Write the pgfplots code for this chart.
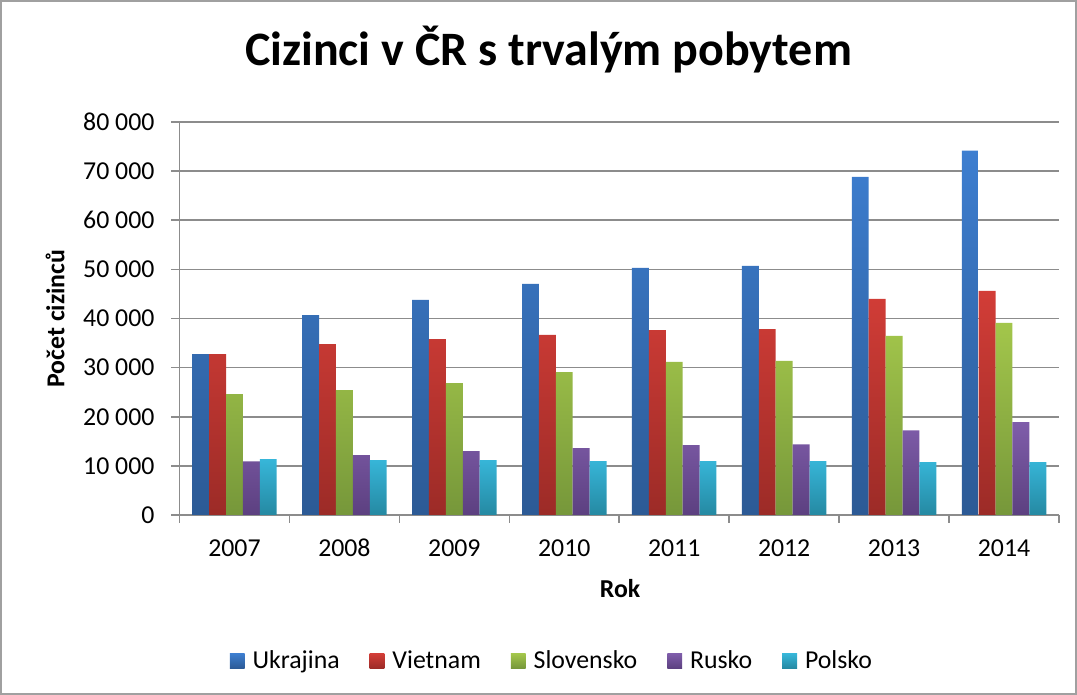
\documentclass[border=0pt]{standalone}
\usepackage{fontspec}
\setmainfont{Carlito}
\usepackage{pgfplots}
\pgfplotsset{compat=1.18}

\definecolor{ukrT}{HTML}{3D7ED0}
\definecolor{ukrB}{HTML}{2C5A95}
\definecolor{vieT}{HTML}{D23D37}
\definecolor{vieB}{HTML}{9C2B27}
\definecolor{sloT}{HTML}{A3C64B}
\definecolor{sloB}{HTML}{76973A}
\definecolor{rusT}{HTML}{7F5DAA}
\definecolor{rusB}{HTML}{5C4080}
\definecolor{polT}{HTML}{37B6D9}
\definecolor{polB}{HTML}{2589A2}
\definecolor{axgray}{HTML}{8C8C8C}
\definecolor{bordergray}{HTML}{A0A0A0}

\begin{document}
\begin{tikzpicture}
\begin{axis}[
  scale only axis,
  width=439.75pt, height=196.5pt,
  xmin=-0.5, xmax=7.5,
  ymin=0, ymax=80000,
  ybar=0pt, bar width=8.45pt,
  axis lines=left,
  axis line style={-, draw=axgray, line width=0.8pt},
  tick style={draw=axgray, line width=0.8pt},
  tick align=outside,
  major tick length=4pt,
  xtick={-0.5,0.5,...,7.5},
  xticklabels={},
  extra x ticks={0,1,2,3,4,5,6,7},
  extra x tick labels={2007,2008,2009,2010,2011,2012,2013,2014},
  extra x tick style={major tick length=0pt,
    xticklabel style={anchor=base, yshift=-21pt}},
  ytick={0,10000,...,80000},
  scaled y ticks=false,
  yticklabel style={/pgf/number format/.cd, 1000 sep={\ }, assume math mode=true,
    /tikz/.cd, xshift=-5pt},
  ymajorgrids,
  grid style={draw=axgray, line width=0.8pt},
  ticklabel style={font=\fontsize{12.9}{15}\selectfont},
  title={Cizinci v ČR s trvalým pobytem},
  title style={at={(rel axis cs:0.4196,1.1145)}, anchor=base,
    font=\bfseries\fontsize{24}{28}\selectfont},
  xlabel={Rok},
  xlabel style={at={(rel axis cs:0.501,-0.2112)}, anchor=base,
    font=\bfseries\fontsize{12.9}{15}\selectfont},
  ylabel={Počet cizinců},
  ylabel style={at={(rel axis cs:-0.1415,0.5)}, anchor=center,
    font=\bfseries\fontsize{12.9}{15}\selectfont},
  legend style={at={(rel axis cs:0.4245,-0.3715)}, anchor=center,
    draw=none, fill=none, legend columns=5,
    font=\fontsize{12.9}{15}\selectfont,
    /tikz/every even column/.append style={column sep=13pt}},
  legend image code/.code={%
    \path[#1, draw=none] (0pt,-3.7pt) rectangle (7.4pt,3.7pt);
    \path (0pt,0pt) -- (9.4pt,0pt);},
]
\addplot[draw=none, top color=ukrT, bottom color=ukrB] coordinates
  {(0,32770) (1,40700) (2,43800) (3,47050) (4,50300) (5,50700) (6,68850) (7,74150)};
\addplot[draw=none, top color=vieT, bottom color=vieB] coordinates
  {(0,32770) (1,34800) (2,35800) (3,36650) (4,37650) (5,37850) (6,44000) (7,45600)};
\addplot[draw=none, top color=sloT, bottom color=sloB] coordinates
  {(0,24600) (1,25400) (2,26850) (3,29100) (4,31150) (5,31350) (6,36450) (7,39100)};
\addplot[draw=none, top color=rusT, bottom color=rusB] coordinates
  {(0,10900) (1,12200) (2,13000) (3,13600) (4,14200) (5,14400) (6,17250) (7,18900)};
\addplot[draw=none, top color=polT, bottom color=polB] coordinates
  {(0,11350) (1,11150) (2,11150) (3,10950) (4,10950) (5,10950) (6,10750) (7,10750)};
\legend{Ukrajina, Vietnam, Slovensko, Rusko, Polsko}
\end{axis}
\draw[bordergray, line width=0.8pt] (-89.35pt,-89.6pt) rectangle (448.35pt,257.1pt);
\end{tikzpicture}
\end{document}
